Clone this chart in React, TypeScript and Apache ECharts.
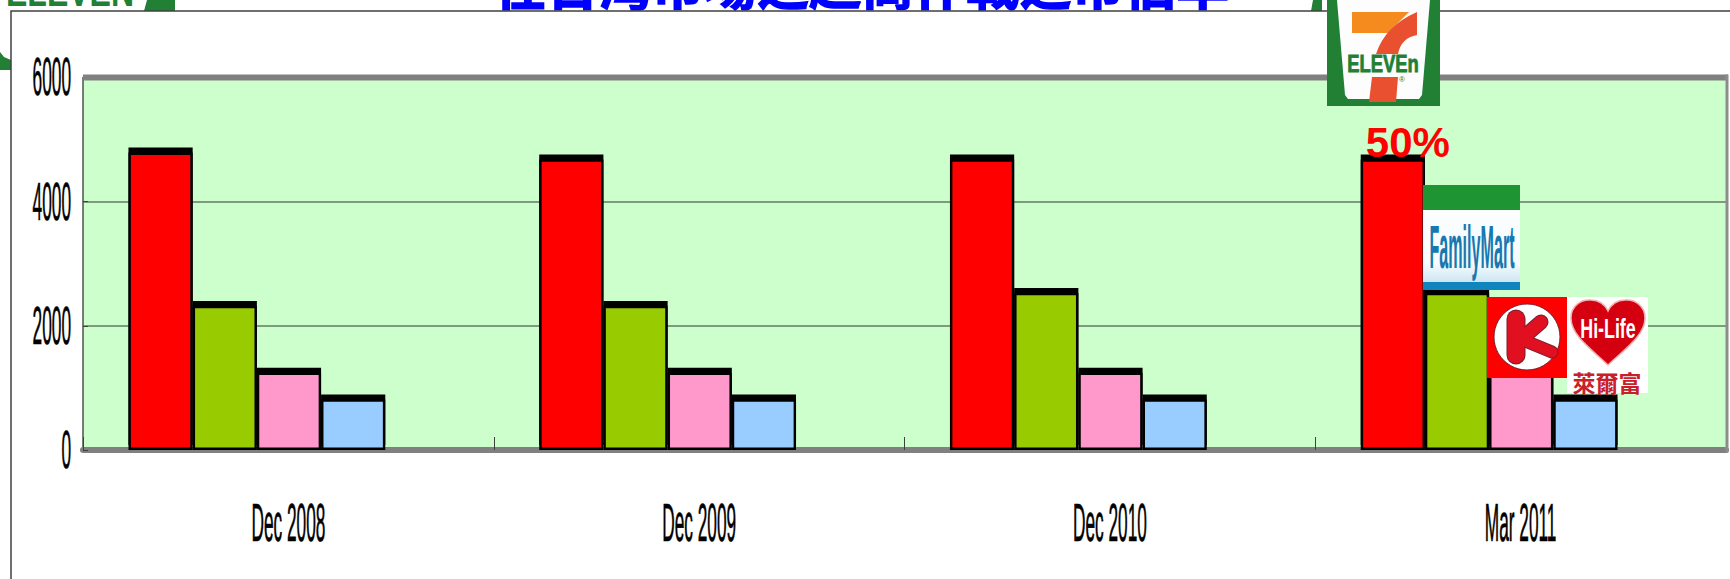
import React, { useEffect, useRef } from "react";
import * as echarts from "echarts";

const categories = ["Dec 2008", "Dec 2009", "Dec 2010", "Mar 2011"];
const yTicks = [0, 2000, 4000, 6000];
const sevenEleven = [4790, 4680, 4680, 4680];
const familyMart = [2320, 2320, 2530, 2530];
const circleK = [1245, 1245, 1245, 1245];
const hiLife = [815, 815, 815, 815];
const shareLabel = "50%";
const titleText = "在台灣市場之超商作戰之市佔率";

const LABEL_FONT = '54px "Liberation Sans", Arial, sans-serif';
const LABEL_SCALE = 0.32;

echarts.graphic.registerShape(
  "heartShape",
  echarts.graphic.extendPath(
    "M1608,365 C1590,348 1571,335 1571,318 C1571,306 1581,299 1591,300 C1599,300 1605,305 1608,311 C1611,305 1617,300 1625,300 C1635,299 1645,306 1645,318 C1645,335 1626,348 1608,365 Z",
    {}
  )
);
echarts.graphic.registerShape(
  "sevenTop",
  echarts.graphic.extendPath("M1417,12 L1417,35 Q1401,38 1398,54 L1376,54 Q1385,26 1417,12 Z", {})
);

const rect = (x: number, y: number, width: number, height: number, style: any, z = 100) => ({
  type: "rect",
  z,
  shape: { x, y, width, height },
  style,
});
const poly = (points: number[][], fill: string, z = 100) => ({
  type: "polygon",
  z,
  shape: { points },
  style: { fill },
});
const line = (points: number[][], stroke: string, lineWidth: number, z = 100) => ({
  type: "polyline",
  z,
  shape: { points },
  style: { stroke, lineWidth, fill: "none", lineCap: "round", lineJoin: "round" },
});
const label = (
  text: string,
  x: number,
  y: number,
  font: string,
  fill: string,
  scaleX = 1,
  z = 101,
  align = "center",
  strokeWidth = 0
) => ({
  type: "text",
  z,
  x,
  y,
  scaleX,
  style: {
    text,
    font,
    fill,
    textAlign: align,
    textVerticalAlign: "middle",
    ...(strokeWidth ? { stroke: fill, lineWidth: strokeWidth } : {}),
  },
});

const GREEN = "#218034";

const graphics: any[] = [
  // things behind the slide frame, cut by its top edge
  label(titleText, 494, -18, 'bold 52.5px "Noto Sans CJK TC"', "#0000ff", 1, -2, "left", 1.5),
  label("ELEVEN", 70, -8, 'bold 40px "Liberation Sans"', GREEN, 0.8, -2),
  poly([[147, 0], [175, 0], [175, 11], [144, 11]], GREEN, -2),
  poly([[1313, 0], [1322, 0], [1322, 11], [1311, 11]], GREEN, -2),
  poly([[0, 52], [4, 57], [11, 60], [11, 70], [0, 70]], GREEN, -2),
  rect(11, 11, 1800, 700, { fill: "#ffffff", stroke: "#404040", lineWidth: 1.5 }, -1),

  // plot frame bands
  rect(83, 74.5, 1645, 6, { fill: "#808080" }, 1),
  rect(1725.5, 74.5, 3, 378, { fill: "#8c8c8c" }, 1),

  // 7-ELEVEN
  rect(1327, 0, 113, 106, { fill: GREEN }),
  poly([[1337, 0], [1430, 0], [1422, 95], [1419, 99], [1348, 99], [1345, 95]], "#fdfdfd"),
  poly([[1352, 12], [1409, 12], [1388, 33], [1352, 33]], "#f58a1f"),
  { type: "sevenTop", z: 100, style: { fill: "#e8502f" } },
  poly([[1372, 77], [1398, 77], [1396, 102], [1369, 102]], "#e8502f"),
  rect(1346, 54, 76, 21, { fill: "#fdfdfd" }),
  label("ELEVEn", 1383, 64, 'bold 23px "Liberation Sans"', GREEN, 0.8, 101, "center", 0.8),
  label("®", 1402, 79, '8px "Liberation Sans"', GREEN),

  // FamilyMart
  rect(1423, 185, 97, 105, {
    fill: new echarts.graphic.LinearGradient(0, 0, 0, 1, [
      { offset: 0, color: "#ffffff" },
      { offset: 0.75, color: "#f5fbfe" },
      { offset: 0.9, color: "#d3e9f4" },
      { offset: 1, color: "#a9d4e8" },
    ]),
  }),
  rect(1423, 185, 97, 25, { fill: "#1f9433" }),
  rect(1423, 282, 97, 8, { fill: "#0f84bd" }),
  label("FamilyMart", 1472, 247, 'bold 62px "Liberation Sans"', "#1878b0", 0.26),

  // Circle K
  rect(1487, 297, 80, 81, { fill: "#ff0000" }),
  { type: "circle", z: 100, shape: { cx: 1527, cy: 337, r: 33 }, style: { fill: "#ffffff", stroke: "#7a2030", lineWidth: 1 } },
  line([[1516, 319], [1516, 355]], "#7a2030", 19, 101),
  line([[1518, 342], [1541, 322]], "#7a2030", 15, 101),
  line([[1518, 338], [1552, 352]], "#7a2030", 13, 101),
  line([[1516, 319], [1516, 355]], "#e01020", 17, 102),
  line([[1518, 342], [1541, 322]], "#e01020", 13, 102),
  line([[1518, 338], [1552, 352]], "#e01020", 11, 102),

  // Hi-Life
  rect(1567, 297, 81, 96, { fill: "#ffffff" }),
  { type: "heartShape", z: 100, style: { fill: "#d40010", stroke: "#f0b0b0", lineWidth: 1.5 } },
  label("Hi-Life", 1608, 329, 'bold 27px "Liberation Sans"', "#ffffff", 0.66),
  label("萊爾富", 1607, 382, 'bold 23px "Noto Sans CJK TC"', "#c8202a", 1),
];

const barSeries = (name: string, data: any[], color: string, barWidth = 64.2) => ({
  name,
  type: "bar",
  data,
  barGap: 0,
  barWidth,
  itemStyle: {
    color,
    borderColor: "#000000",
    borderWidth: 2.4,
    shadowColor: "#000000",
    shadowBlur: 0,
    shadowOffsetY: -5,
  },
});

export default function App() {
  const ref = useRef<HTMLDivElement>(null);
  useEffect(() => {
    const chart = echarts.init(ref.current!, null, { renderer: "svg" });
    chart.setOption({
      animation: false,
      backgroundColor: "#ffffff",
      grid: {
        left: 83,
        top: 77.5,
        width: 1643,
        height: 372.5,
        show: true,
        backgroundColor: "#ccffcc",
        borderWidth: 0,
      },
      xAxis: {
        type: "category",
        data: categories,
        axisLine: { show: true, lineStyle: { color: "#808080", width: 6 } },
        axisTick: { show: true, inside: true, length: 13, lineStyle: { color: "#404040", width: 1 } },
        axisLabel: { show: false },
        splitLine: { show: false },
      },
      yAxis: {
        type: "value",
        min: 0,
        max: 6000,
        interval: 2000,
        axisLine: { show: true, lineStyle: { color: "#505050", width: 1.5 } },
        axisTick: { show: true, inside: true, length: 5, lineStyle: { color: "#404040", width: 1 } },
        axisLabel: { show: false },
        splitLine: { show: true, lineStyle: { color: "#667a66", width: 1.5 } },
      },
      series: [
        barSeries(
          "7-ELEVEN",
          sevenEleven.map((v, i) =>
            i === sevenEleven.length - 1
              ? {
                  value: v,
                  label: {
                    show: true,
                    formatter: shareLabel,
                    position: "top",
                    distance: 0,
                    offset: [15, 4],
                    color: "#ff0000",
                    fontSize: 42,
                    fontWeight: "bold",
                    fontFamily: '"Liberation Sans", Arial, sans-serif',
                  },
                }
              : v
          ),
          "#ff0000"
        ),
        barSeries("FamilyMart", familyMart, "#99cc00"),
        barSeries("Circle K", circleK, "#ff99cc"),
        barSeries("Hi-Life", hiLife, "#99ccff"),
        barSeries("", categories.map(() => null), "#ffffff", 63),
        {
          type: "custom",
          name: "categoryLabels",
          z: 5,
          silent: true,
          clip: false,
          data: categories.map((_, i) => [i, 0]),
          renderItem: (params: any, api: any) => {
            const p = api.coord([api.value(0), 0]);
            return {
              type: "text",
              x: p[0],
              y: p[1] + 72,
              scaleX: LABEL_SCALE,
              style: {
                text: categories[params.dataIndex],
                font: LABEL_FONT,
                fill: "#000000",
                stroke: "#000000",
                lineWidth: 0.7,
                textAlign: "center",
                textVerticalAlign: "middle",
              },
            };
          },
        },
        {
          type: "custom",
          name: "valueLabels",
          z: 5,
          silent: true,
          clip: false,
          data: yTicks.map((v) => [0, v]),
          renderItem: (params: any, api: any) => {
            const p = api.coord([0, api.value(1)]);
            return {
              type: "text",
              x: params.coordSys.x - 12,
              y: p[1] - 1,
              scaleX: LABEL_SCALE,
              style: {
                text: String(yTicks[params.dataIndex]),
                font: LABEL_FONT,
                fill: "#000000",
                stroke: "#000000",
                lineWidth: 0.7,
                textAlign: "right",
                textVerticalAlign: "middle",
              },
            };
          },
        },
      ],
      graphic: { elements: graphics },
    });
    return () => chart.dispose();
  }, []);
  return (
    <div
      ref={ref}
      style={{ position: "fixed", left: 0, top: 0, width: 1730, height: 579, overflow: "hidden" }}
    />
  );
}
